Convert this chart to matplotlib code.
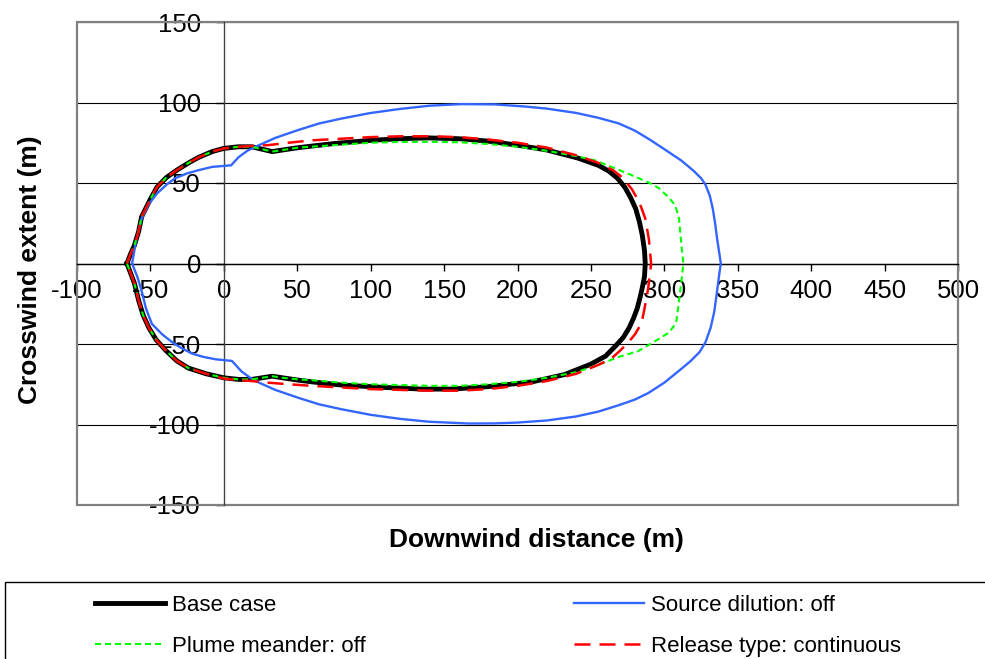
import matplotlib
matplotlib.use("Agg")
import matplotlib.pyplot as plt
from matplotlib.patches import Rectangle

plt.rcParams['font.family'] = ['Liberation Sans', 'DejaVu Sans']
plt.rcParams['axes.unicode_minus'] = False

# contours of the cloud footprint, traced from the tip over the top and back along the bottom
base_x = [-66, -63.5, -61, -58, -56, -50, -45.5, -39, -32, -24, -17, -8, 0, 10, 19, 26, 33, 40, 51,
          75, 100, 120, 139, 160, 180, 200, 220, 241, 255, 262, 268, 273, 277, 280.5, 283, 285, 286.5, 287,
          286.5, 285, 283.5, 281.5, 279, 276, 272, 267, 260, 250, 232, 210, 180, 155, 135, 110, 80, 60, 51, 40,
          33, 26, 19, 10, 0, -12, -24, -32, -39.5, -46, -51, -55, -58, -61, -66]
base_y = [0, 6, 11, 20, 29, 40, 47.5, 53.5, 58, 62.5, 66, 69.5, 71.5, 72.5, 72.5, 71, 69.5, 70.5, 72,
          74.5, 76.5, 77.5, 78, 77.5, 76, 73.5, 70.5, 65.5, 61, 57.5, 53, 47.5, 41, 34, 26, 17.5, 8, 0,
          -8, -15, -21, -28, -34, -40, -46, -51, -57.5, -62.5, -69, -73.5, -76.5, -78, -78, -77, -75.5, -73.5, -72.5, -71,
          -70, -71, -72, -72, -71, -68.5, -65, -60.5, -54, -47.5, -40, -32, -23, -12, 0]

dilution_x = [-62.5, -60, -56, -51, -45.5, -39, -33, -25, -17, -8, -1.5, 5, 10, 16, 21.5, 35, 51,
              65, 80, 100, 120, 140, 162, 185, 205, 220, 240, 255, 269, 280, 290, 300, 311.5, 320, 325,
              328, 331, 333, 334.5, 336, 337.5, 338.5, 337.5, 336.5, 335.5, 334, 331.5, 328, 324, 318,
              311.5, 300, 289, 280, 269, 255, 240, 220, 200, 185, 167, 140, 120, 100, 80, 65, 51, 35,
              24, 18, 12, 5.5, -5.5, -14, -21.5, -28, -35, -42, -49, -53, -56, -59, -62.5]
dilution_y = [0, 13, 28, 37, 43.5, 49, 53, 56, 58, 60, 60.5, 61, 66, 70, 72.5, 78, 83,
              87, 90, 93.5, 96, 98, 99, 98.8, 97.5, 96.2, 93.5, 90.5, 87, 82.5, 77, 71, 64, 57.5, 53,
              49, 42, 34, 25.5, 15, 6, 0, -6, -13, -20, -30, -40, -49, -55, -60.5,
              -65.5, -74, -80.5, -84.5, -88, -92, -95, -97.5, -98.8, -99.3, -99.4, -98.3, -96.5, -94, -90.5, -87.5, -83.5, -78.5,
              -74, -71, -67, -60.5, -59.5, -58, -56, -53, -49, -44, -37.5, -28, -17, -8, 0]

meander_x = [-66, -63.5, -61, -58, -56, -50, -45.5, -39, -32, -24, -17, -8, 0, 10, 19, 26, 33, 40, 51,
             75, 100, 120, 139, 160, 180, 200, 220, 241, 253, 264, 280, 290, 296, 303, 307.5, 310, 311,
             312, 313, 312, 311, 309.5, 308, 303, 296, 282, 269, 255, 240, 220, 200, 180, 160, 140,
             120, 100, 80, 60, 51, 40, 33, 26, 19, 10, 0, -12, -24, -32, -39.5, -46, -51, -55, -58, -61, -66]
meander_y = [0, 6, 11, 20, 29, 40, 47.5, 53.5, 58, 62.5, 66, 69.5, 71.5, 72.5, 72.5, 71, 69.5, 70.5, 72,
             73.5, 75, 75.5, 75.6, 75.3, 74.2, 72.5, 70, 66.5, 64, 60, 54, 50, 47, 41, 36, 28, 17.5,
             8, 0, -8, -15.5, -27, -37, -43, -47, -54.5, -58, -63, -67.5, -71, -73.5, -75, -76, -76,
             -75.5, -75, -74, -72.5, -72, -71, -70, -71, -72, -72, -71, -68.5, -65, -60.5, -54, -47.5, -40, -32, -23, -12, 0]

release_x = [-66, -63.5, -61, -58, -56, -50, -45.5, -39, -32, -24, -17, -8, 0, 10, 19, 30, 44, 60, 80,
             100, 120, 140, 160, 180, 200, 220, 241, 255, 265, 272, 278, 283, 287, 289.5, 291,
             290, 289, 286.5, 284.5, 280, 275.5, 270, 264, 255, 240, 220, 200, 180, 160, 140, 120,
             100, 80, 60, 44, 30, 19, 10, 0, -12, -24, -32, -39.5, -46, -51, -55, -58, -61, -66]
release_y = [0, 6, 11, 20, 29, 40, 47.5, 53.5, 58, 62.5, 66, 69.5, 71.5, 72.5, 73, 73.5, 75, 76.5, 77.5,
             78.5, 79, 79, 78.5, 77, 75, 72, 67, 62.5, 58, 53, 46, 38, 28, 15, 0,
             -8, -15.5, -28, -37, -44, -49, -54, -59, -63, -68.5, -73, -76, -78, -79, -79, -78.5,
             -78, -77, -76, -75, -74, -73, -72.5, -71.5, -68.5, -65, -60.5, -54, -47.5, -40, -32, -23, -12, 0]

xticks = list(range(-100, 501, 50))
yticks = list(range(-150, 151, 50))

fig = plt.figure(figsize=(9.85, 6.59), dpi=100)
ax = fig.add_axes([77/985, 1-505/659, (958-77)/985, 483/659])

l_base, = ax.plot(base_x, base_y, color='black', lw=3.5, label='Base case', zorder=3)
l_dil, = ax.plot(dilution_x, dilution_y, color='#3366FF', lw=1.7, label='Source dilution: off', zorder=3)
l_mea, = ax.plot(meander_x, meander_y, color='#00FF00', lw=1.5, dashes=(2.9, 1.9),
                 label='Plume meander: off', zorder=3)
l_rel, = ax.plot(release_x, release_y, color='#FF0000', lw=1.8, dashes=(6.4, 3.6),
                 label='Release type: continuous', zorder=3)

ax.set_xlim(-100, 500)
ax.set_ylim(-150, 150)
ax.set_xticks(xticks)
ax.set_yticks(yticks)

# axes cross at the origin, plot area framed in grey
for s in ['top', 'right']:
    ax.spines[s].set_visible(False)
ax.spines['left'].set_position(('data', 0))
ax.spines['bottom'].set_position(('data', 0))
ax.spines['left'].set_color('#444444')
ax.spines['bottom'].set_color('black')
ax.spines['left'].set_linewidth(1)
ax.spines['bottom'].set_linewidth(1)
ax.add_patch(Rectangle((0, 0), 1, 1, transform=ax.transAxes, fill=False,
                       edgecolor='#808080', lw=1.6, zorder=2.5, clip_on=False))

ax.yaxis.grid(True, color='black', lw=0.8)
ax.set_axisbelow(True)

ax.tick_params(axis='x', direction='out', length=5, width=1, pad=6, labelsize=18.5)
ax.tick_params(axis='y', direction='out', length=5.5, width=1, pad=11, labelsize=18.5)

ax.set_xlabel('Downwind distance (m)', fontsize=19, fontweight='bold')
ax.xaxis.set_label_coords((536-77)/881, (505-540)/483)
ax.xaxis.label.set_va('center')
ax.set_ylabel('Crosswind extent (m)', fontsize=19, fontweight='bold')
ax.yaxis.set_label_coords((30-77)/881, (505-270)/483)
ax.yaxis.label.set_va('center')

# legend box runs off the right and bottom of the figure
fig.patches.append(Rectangle((5/985, -0.05), 1.0, (659-582)/659 + 0.05, transform=fig.transFigure,
                             fill=False, edgecolor='black', lw=1))
fig.legend([l_base, l_mea, l_dil, l_rel],
           ['Base case', 'Plume meander: off', 'Source dilution: off', 'Release type: continuous'],
           ncol=2, loc='upper left', bbox_to_anchor=(95/985, 1-595/659), frameon=False,
           fontsize=16, borderpad=0, borderaxespad=0, handlelength=3.15, handletextpad=0.3,
           columnspacing=9.4, labelspacing=0.9)

plt.savefig('out.png', dpi=100)
